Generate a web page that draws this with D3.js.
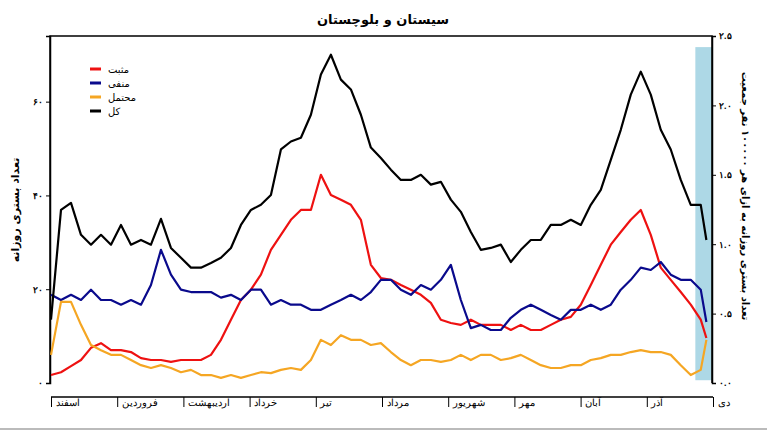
<!DOCTYPE html>
<html><head><meta charset="utf-8">
<script src="https://cdn.jsdelivr.net/npm/d3@7"></script>
<style>body{margin:0;background:#fff;font-family:"DejaVu Sans",sans-serif}</style>
</head><body>
<script>
// data (daily hospitalisations, sampled every ~4.5 days)
var months = ["اسفند","فروردین","اردیبهشت","خرداد","تیر","مرداد","شهریور","مهر","آبان","آذر","دی"];
var total = [13.5,36.9,38.4,31.6,29.5,31.6,29.5,33.7,29.5,30.5,29.5,35,28.8,26.7,24.6,24.6,25.6,26.7,28.8,33.7,36.9,38,40.1,49.8,51.5,52.3,57.2,65.8,70,64.7,62.6,57.2,50.2,48,45.5,43.3,43.3,44.4,42.3,42.9,39.1,36.5,32.2,28.4,28.8,29.5,25.8,28.4,30.5,30.5,33.7,33.7,34.8,33.7,38,41.2,47.6,54,61.5,66.4,61.5,54,49.8,43.3,38,38,30.5];
var positive = [1.7,2.3,3.6,4.9,7.5,8.5,7,7,6.6,5.3,4.9,4.9,4.5,4.9,4.9,4.9,6,9.2,13.5,17.7,19.9,23.1,28.4,31.6,34.8,36.9,36.9,44.4,40.1,39.1,38,34.8,25.2,22.4,22,20.9,19.9,18.8,17.1,13.5,12.8,12.4,13.5,12.4,12.4,12.4,11.3,12.4,11.3,11.3,12.4,13.5,14.1,16.7,20.9,25.2,29.5,32.2,34.8,36.9,31.6,24.6,22,19.4,16.7,13.5,9.6];
var negative = [18.8,17.7,18.8,17.7,19.9,17.7,17.7,16.7,17.7,16.7,20.9,28.4,23.1,19.9,19.4,19.4,19.4,18.2,18.8,17.7,19.9,19.9,16.7,17.7,16.7,16.7,15.6,15.6,16.7,17.7,18.8,17.7,19.4,22,22,19.9,18.8,20.9,19.9,22,25.2,17.7,11.7,12.4,11.3,11.3,13.9,15.6,16.7,15.6,14.5,13.5,15.6,15.6,16.7,15.6,16.7,19.9,22,24.6,24.1,25.8,23.1,22,22,19.9,13];
var probable = [6,17.3,17.3,12.4,8.1,7,6,6,4.9,3.8,3.2,3.8,3.2,2.3,2.8,1.7,1.7,1.1,1.7,1.1,1.7,2.3,2.1,2.8,3.2,2.8,4.9,9.2,8.1,10.2,9.2,9.2,8.1,8.5,6.6,4.9,3.8,4.9,4.9,4.5,4.9,6,4.9,6,6,4.9,5.3,6,4.9,3.8,3.2,3.2,3.8,3.8,4.9,5.3,6,6,6.6,7,6.6,6.6,6,3.8,1.7,2.8,9.2];
var days = d3.range(66).map(function(i){ return i * 4.53; }).concat([297]);
var leftTicks = [0,20,40,60];
var rightTicks = [0,0.5,1,1.5,2,2.5];
var series = [
  {name:"مثبت", color:"#ee1111", values:positive},
  {name:"منفی", color:"#0a0a8c", values:negative},
  {name:"محتمل", color:"#f5a623", values:probable},
  {name:"کل", color:"#000000", values:total}
];

var fa = function(s){ return String(s).replace(/\d/g, function(c){ return "۰۱۲۳۴۵۶۷۸۹"[c]; }); };

var svg = d3.select("body").append("svg").attr("width",767).attr("height",432);

var x = d3.scaleLinear().domain([0,300]).range([51,713]);
var y = d3.scaleLinear().domain([0,74]).range([383,36]);
var yR = d3.scaleLinear().domain([0,74/29.6]).range([383,36]);

// highlight box
svg.append("rect")
  .attr("x", x(292)).attr("width", x(300)-x(292))
  .attr("y", yR(2.42)).attr("height", yR(0.02)-yR(2.42))
  .attr("fill","#add8e6");

// frame
svg.append("path").attr("d","M50,383V36H712V383").attr("fill","none").attr("stroke","#000").attr("stroke-width",1.5);

var lAxis = svg.append("g").attr("transform","translate(50,0)")
  .call(d3.axisLeft(y).tickValues(leftTicks).tickSize(4).tickFormat(fa));
var rAxis = svg.append("g").attr("transform","translate(712,0)")
  .call(d3.axisRight(yR).tickValues(rightTicks).tickSize(4).tickFormat(function(d){ return fa(d3.format(".1f")(d)); }));
[lAxis, rAxis].forEach(function(a){
  a.select(".domain").attr("stroke-width",1.5);
  a.selectAll("text").attr("font-size",9).attr("font-weight","bold");
});

// month axis
var xa = svg.append("g").attr("transform","translate(0,397)")
  .call(d3.axisBottom(x).tickValues(d3.range(11).map(function(i){ return i*30; })).tickSize(8).tickFormat(function(d,i){ return months[i]; }));
xa.select(".domain").attr("stroke-width",1.5).attr("d","M51,0H713");
xa.selectAll(".tick line").attr("y1",0).attr("y2",10);
xa.selectAll("text").attr("text-anchor","start").attr("x",4).attr("y",2).attr("font-size",10);

var line = d3.line().x(function(d,i){ return x(days[i]); }).y(function(d){ return y(d); });
series.forEach(function(s){
  svg.append("path").datum(s.values).attr("d",line).attr("fill","none")
    .attr("stroke",s.color).attr("stroke-width",2.2).attr("stroke-linejoin","round");
});

// legend
series.forEach(function(s,i){
  var ly = 69 + i*14;
  svg.append("line").attr("x1",90).attr("x2",101).attr("y1",ly).attr("y2",ly).attr("stroke",s.color).attr("stroke-width",3);
  svg.append("text").attr("x",108).attr("y",ly+4).attr("font-size",10).text(s.name);
});

svg.append("text").attr("x",383).attr("y",24).attr("text-anchor","middle").attr("font-size",13).attr("font-weight","bold").text("سیستان و بلوچستان");
svg.append("text").attr("transform","translate(19,210) rotate(-90)").attr("text-anchor","middle").attr("font-size",11).attr("font-weight","bold").text("تعداد بستری روزانه");
svg.append("text").attr("transform","translate(742,196) rotate(90)").attr("text-anchor","middle").attr("font-size",10).attr("font-weight","bold").text("تعداد بستری روزانه به ازای هر ۱۰۰۰۰۰ نفر جمعیت");

svg.append("line").attr("x1",0).attr("x2",767).attr("y1",429).attr("y2",429).attr("stroke","#bbb").attr("stroke-width",2);
</script>
</body></html>
